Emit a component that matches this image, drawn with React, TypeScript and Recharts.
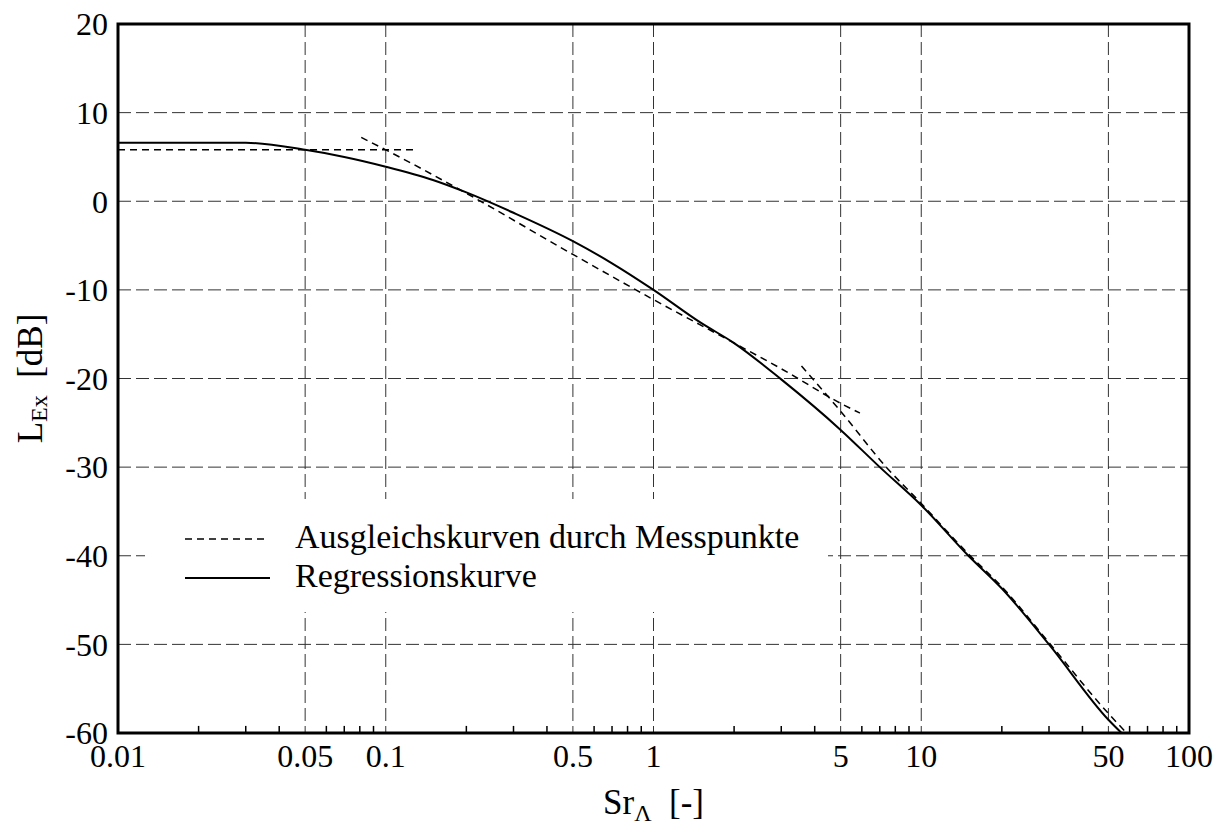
import React from 'react';
import {
  ComposedChart,
  Line,
  XAxis,
  YAxis,
  CartesianGrid,
  ReferenceArea,
  ReferenceLine,
  Legend,
} from 'recharts';

const serif = '"Liberation Serif", "Times New Roman", Times, serif';

// axis ticks
const xTicks = [0.01, 0.05, 0.1, 0.5, 1, 5, 10, 50, 100];
const yTicks = [20, 10, 0, -10, -20, -30, -40, -50, -60];
const minorTicks = [
  0.02, 0.03, 0.04, 0.06, 0.07, 0.08, 0.09,
  0.2, 0.3, 0.4, 0.6, 0.7, 0.8, 0.9,
  2, 3, 4, 6, 7, 8, 9,
  20, 30, 40, 60, 70, 80, 90,
];

// Regressionskurve
const regX = [0.01, 0.03, 0.05, 0.07, 0.1, 0.15, 0.2, 0.3, 0.5, 0.7, 1, 1.5, 2, 3, 5, 7, 10, 15, 20, 30, 50, 56];
const regY = [6.6, 6.6, 5.8, 5.0, 3.9, 2.4, 1.0, -1.3, -4.5, -7.0, -10, -13.7, -16.0, -20.1, -25.8, -30, -34.3, -40, -43.7, -50, -58.5, -60];

// Ausgleichskurven durch Messpunkte (three pieces)
const fitAX = [0.01, 0.128];
const fitAY = [5.8, 5.8];
const fitBX = [0.081, 0.1, 0.2, 0.5, 1, 2, 3, 5, 5.9];
const fitBY = [7.2, 5.8, 0.9, -6.0, -11.1, -16.0, -18.9, -22.8, -23.9];
const fitCX = [3.57, 5, 7.4, 10, 15, 20, 30, 50, 58.5];
const fitCY = [-18.6, -23.7, -30, -34.1, -39.8, -43.5, -49.8, -57.8, -60];

const zip = (xs: number[], ys: number[]) => xs.map((x, i) => ({ x, y: ys[i] }));

const regData = zip(regX, regY);
const fitA = zip(fitAX, fitAY);
const fitB = zip(fitBX, fitBY);
const fitC = zip(fitCX, fitCY);

const LegendBox = (props: any) => {
  const items = (props.payload || []).filter((p: any) => p.type !== 'none');
  return (
    <div style={{ width: 683, height: 113, background: '#fff' }}>
      <svg width={683} height={113}>
        {items.map((item: any, i: number) => {
          const dashed = item.value === 'Ausgleichskurven durch Messpunkte';
          const cy = 40 + i * 39;
          return (
            <g key={item.value}>
              <line
                x1={40}
                x2={dashed ? 122 : 125}
                y1={cy}
                y2={cy}
                stroke="#000"
                strokeWidth={dashed ? 1.5 : 2}
                strokeDasharray={dashed ? '7 5' : undefined}
              />
              <text x={150} y={cy + 9} fontFamily={serif} fontSize={34} fill="#000">
                {item.value}
              </text>
            </g>
          );
        })}
      </svg>
    </div>
  );
};

const YLabel = (props: any) => {
  const vb = props.viewBox;
  const cx = 34;
  const cy = vb.y + vb.height / 2;
  return (
    <text
      x={cx}
      y={cy}
      transform={`rotate(-90, ${cx}, ${cy})`}
      textAnchor="middle"
      fontFamily={serif}
      fontSize={35}
      fill="#000"
    >
      L
      <tspan fontSize={24} dy={5}>Ex</tspan>
      <tspan dy={-5}>{'\u00a0\u00a0[dB]'}</tspan>
    </text>
  );
};

const XLabel = (props: any) => {
  const vb = props.viewBox;
  const cx = vb.x + vb.width / 2;
  const cy = vb.y + 81;
  return (
    <text x={cx} y={cy} textAnchor="middle" fontFamily={serif} fontSize={35} fill="#000">
      Sr
      <tspan fontSize={24} dy={7}>Λ</tspan>
      <tspan dy={-7}>{'\u00a0\u00a0[-]'}</tspan>
    </text>
  );
};

export default function App() {
  return (
    <ComposedChart
      width={1211}
      height={817}
      margin={{ top: 16, right: 30, bottom: 0, left: 0 }}
      style={{ fontFamily: serif }}
    >
      <CartesianGrid stroke="#333" strokeWidth={1} strokeDasharray="13 5" />
      <XAxis
        dataKey="x"
        type="number"
        scale="log"
        domain={[0.01, 100]}
        allowDataOverflow
        ticks={xTicks}
        interval={0}
        height={92}
        axisLine={false}
        tickLine={false}
        tickSize={0}
        tickMargin={11}
        tick={{ fontSize: 32, fill: '#000', fontFamily: serif }}
        label={<XLabel />}
      />
      <YAxis
        type="number"
        domain={[-60, 20]}
        allowDataOverflow
        ticks={yTicks}
        interval={0}
        width={110}
        axisLine={false}
        tickLine={false}
        tickSize={0}
        tickMargin={10}
        tick={{ fontSize: 32, fill: '#000', fontFamily: serif }}
        label={<YLabel />}
      />
      {minorTicks.map((v) => (
        <ReferenceLine
          key={v}
          segment={[{ x: v, y: -60 }, { x: v, y: -59.2 }]}
          stroke="#000"
          strokeWidth={1.5}
        />
      ))}
      <Line
        data={fitA}
        dataKey="y"
        name="Ausgleichskurven durch Messpunkte"
        type="linear"
        stroke="#000"
        strokeWidth={1.5}
        strokeDasharray="7 5"
        dot={false}
        isAnimationActive={false}
      />
      <Line
        data={fitB}
        dataKey="y"
        name="fitB"
        legendType="none"
        type="monotone"
        stroke="#000"
        strokeWidth={1.5}
        strokeDasharray="7 5"
        dot={false}
        isAnimationActive={false}
      />
      <Line
        data={fitC}
        dataKey="y"
        name="fitC"
        legendType="none"
        type="monotone"
        stroke="#000"
        strokeWidth={1.5}
        strokeDasharray="7 5"
        dot={false}
        isAnimationActive={false}
      />
      <Line
        data={regData}
        dataKey="y"
        name="Regressionskurve"
        type="monotone"
        stroke="#000"
        strokeWidth={2}
        dot={false}
        isAnimationActive={false}
      />
      <ReferenceArea x1={0.01} x2={100} y1={-60} y2={20} fill="none" stroke="#000" strokeWidth={3} />
      <Legend
        layout="horizontal"
        align="center"
        verticalAlign="middle"
        content={<LegendBox />}
        wrapperStyle={{ left: 137, top: 491, width: 683, height: 113 }}
      />
    </ComposedChart>
  );
}
